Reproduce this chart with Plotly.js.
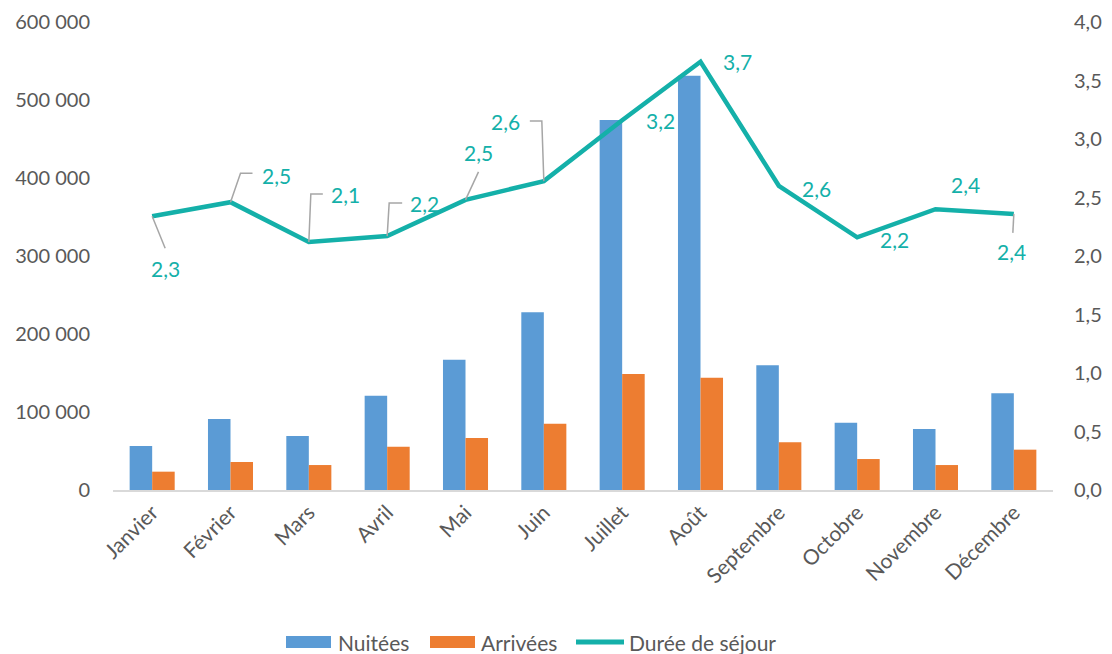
<!DOCTYPE html>
<html>
<head>
<meta charset="utf-8">
<script src="https://cdn.plot.ly/plotly-3.0.1.min.js"></script>
<style>html,body{margin:0;padding:0;background:#fff;}#chart{width:1112px;height:654px;}</style>
</head>
<body>
<div id="chart"></div>
<script>
const months = ['Janvier','Février','Mars','Avril','Mai','Juin','Juillet','Août','Septembre','Octobre','Novembre','Décembre'];
const nuitees = [56400, 91000, 69200, 120900, 167100, 227800, 474400, 531200, 159800, 86300, 78200, 124000];
const arrivees = [23500, 35900, 32000, 55500, 66700, 85000, 148700, 144000, 61100, 39700, 32000, 51700];
const duree = [2.34, 2.46, 2.12, 2.17, 2.48, 2.64, 3.16, 3.66, 2.60, 2.16, 2.40, 2.36];
const seriesNames = ['Nuitées', 'Arrivées', 'Durée de séjour'];
const leftTicks = [0, 100000, 200000, 300000, 400000, 500000, 600000];
const rightTicks = [0, 0.5, 1, 1.5, 2, 2.5, 3, 3.5, 4];

// label offsets in pixels [dx, dy(down)]
const labelOffsets = [[13,52],[46,-27],[37,-47],[37,-33],[13,-47],[-38,-60],[38,0],[37,0],[38,3],[37,2],[30,-25],[-2,38]];
// leader line paths (pixels, y up) or null
const leaders = ['M0,0 L13,-32','M0,0 L10,29 L22,29','M0,0 L2,48 L14,48','M0,0 L2,33 L15,33','M0,0 L13,28','M0,0 L-2,60 L-14,60',null,null,null,null,null,'M0,0 L-1,-19'];

const FONT = 'Lato, "Open Sans", sans-serif';
const GRAY = '#595959';
const TEAL = '#14B0A9';
const BLUE = '#5B9BD5';
const ORANGE = '#ED7D31';

const M = {l:113, r:59, t:22, b:164};
const PW = 1112 - M.l - M.r, PH = 654 - M.t - M.b;
const px2x = p => (p - M.l) / PW;
const py2y = p => (654 - M.b - p) / PH;

const fmt1 = v => v.toFixed(1).replace('.', ',');

const traces = [
  {type:'bar', name:seriesNames[0], x:months, y:nuitees, marker:{color:BLUE}, yaxis:'y'},
  {type:'bar', name:seriesNames[1], x:months, y:arrivees, marker:{color:ORANGE}, yaxis:'y'},
  {type:'scatter', mode:'lines', name:seriesNames[2], x:months, y:duree, yaxis:'y2', line:{color:TEAL, width:4.5}}
];

const annotations = months.map((m, i) => ({
  x: m, y: duree[i], xref:'x', yref:'y2', text: fmt1(duree[i]), showarrow:false,
  xshift: labelOffsets[i][0], yshift: -labelOffsets[i][1], xanchor:'center', yanchor:'middle',
  font:{family:FONT, size:21, color:TEAL}
}));

const shapes = [];
months.forEach((m, i) => {
  if (leaders[i]) shapes.push({type:'path', xref:'x', yref:'y2', xsizemode:'pixel', ysizemode:'pixel',
    xanchor:m, yanchor:duree[i], path:leaders[i], line:{color:'#A6A6A6', width:1.5}});
});

// custom legend (Excel style wide swatches)
const legY = 642;
const legItems = [
  {kind:'rect', color:BLUE, x0:286, x1:331, tx:336, name:seriesNames[0]},
  {kind:'rect', color:ORANGE, x0:430, x1:475, tx:479, name:seriesNames[1]},
  {kind:'line', color:TEAL, x0:576, x1:624, tx:627, name:seriesNames[2]}
];
legItems.forEach(it => {
  if (it.kind === 'rect') {
    shapes.push({type:'rect', xref:'paper', yref:'paper', x0:px2x(it.x0), x1:px2x(it.x1),
      y0:py2y(legY+6), y1:py2y(legY-6), fillcolor:it.color, line:{width:0}});
  } else {
    shapes.push({type:'line', xref:'paper', yref:'paper', x0:px2x(it.x0), x1:px2x(it.x1),
      y0:py2y(legY), y1:py2y(legY), line:{color:it.color, width:5}});
  }
  annotations.push({xref:'paper', yref:'paper', x:px2x(it.tx), y:py2y(legY), xanchor:'left', yanchor:'middle',
    text:it.name, showarrow:false, font:{family:FONT, size:21, color:GRAY}});
});

const layout = {
  width:1112, height:654,
  margin:M,
  paper_bgcolor:'#fff', plot_bgcolor:'#fff',
  separators:', ',
  font:{family:FONT, size:20, color:GRAY},
  barmode:'group', bargap:0.425, bargroupgap:0,
  xaxis:{type:'category', tickangle:-45, showgrid:false, showline:true, linecolor:'#D9D9D9', linewidth:2,
    ticks:'', tickfont:{family:FONT, size:21, color:GRAY}, zeroline:false, automargin:false},
  yaxis:{range:[0,600000], tickvals:leftTicks, tickformat:',d', showgrid:false, zeroline:false, showline:false,
    ticks:'', ticklabelstandoff:22, tickfont:{family:FONT, size:20, color:GRAY}, automargin:false},
  yaxis2:{range:[0,4], tickvals:rightTicks, tickformat:'.1f', overlaying:'y', side:'right', showgrid:false,
    zeroline:false, showline:false, ticks:'', ticklabelstandoff:20, tickfont:{family:FONT, size:20, color:GRAY}, automargin:false},
  annotations:annotations,
  shapes:shapes,
  showlegend:false
};

Plotly.newPlot('chart', traces, layout, {displayModeBar:false, staticPlot:true});
</script>
</body>
</html>
